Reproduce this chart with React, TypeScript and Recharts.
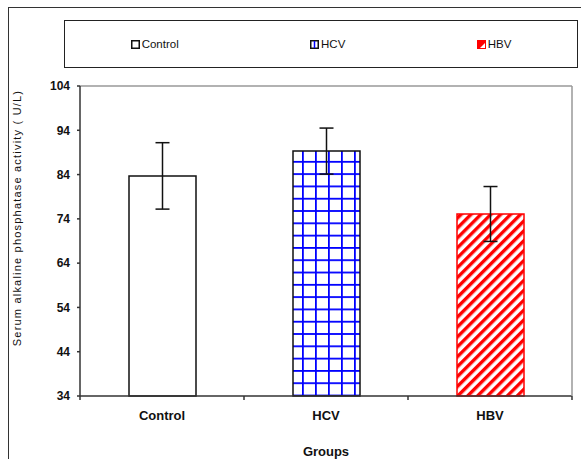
import { BarChart, Bar, XAxis, YAxis, ErrorBar, Cell, Legend, ReferenceLine } from 'recharts'

const groups = ['Control', 'HCV', 'HBV']
const means = [83.7, 89.3, 75.1]
const errors = [7.5, 5.2, 6.2]
const yTicks = [34, 44, 54, 64, 74, 84, 94, 104]

const data = groups.map((group, i) => ({ group, mean: means[i], err: errors[i] }))

// look of each bar, same order as groups
const barLook = [
  { fill: '#ffffff', stroke: '#111111' },
  { fill: 'url(#hcvGrid)', stroke: '#111111' },
  { fill: 'url(#hbvHatch)', stroke: '#ff0000' },
]

const FONT = '"Liberation Sans", Arial, sans-serif'
const X_TICK_MARGIN = 15

function Marker({ index }: { index: number }) {
  if (index === 0) {
    return (
      <svg width={9} height={9} style={{ marginRight: 2 }}>
        <rect x={0.75} y={0.75} width={7.5} height={7.5} fill="#fff" stroke="#111" strokeWidth={1.5} />
      </svg>
    )
  }
  if (index === 1) {
    return (
      <svg width={9} height={9} style={{ marginRight: 2 }}>
        <rect x={0.75} y={0.75} width={7.5} height={7.5} fill="#fff" stroke="#111" strokeWidth={1.5} />
        <line x1={4.5} y1={1} x2={4.5} y2={8} stroke="#0000ff" strokeWidth={1.5} />
      </svg>
    )
  }
  return (
    <svg width={9} height={9} style={{ marginRight: 2 }}>
      <rect x={0} y={0} width={9} height={9} fill="#ff0000" />
      <polygon points="3,8 8,3 8,8" fill="#fff" />
    </svg>
  )
}

function LegendBox() {
  return (
    <div
      style={{
        boxSizing: 'border-box',
        width: '100%',
        height: '100%',
        border: '1.5px solid #222',
        display: 'flex',
        alignItems: 'center',
        justifyContent: 'space-around',
        fontFamily: FONT,
        fontSize: 11.5,
        color: '#111',
      }}
    >
      {groups.map((g, i) => (
        <div key={g} style={{ display: 'flex', alignItems: 'center' }}>
          <Marker index={i} />
          <span>{g}</span>
        </div>
      ))}
    </div>
  )
}

// category label plus the small tick marks on the band edges (Excel style)
function GroupTick(props: any) {
  const { x, y, payload, index, visibleTicksCount } = props
  const half = payload?.offset ?? 0
  const axisY = y - X_TICK_MARGIN
  return (
    <g>
      <line x1={x - half} x2={x - half} y1={axisY} y2={axisY + 4} stroke="#333" strokeWidth={1.5} />
      {index === visibleTicksCount - 1 && (
        <line x1={x + half} x2={x + half} y1={axisY} y2={axisY + 4} stroke="#333" strokeWidth={1.5} />
      )}
      <text x={x} y={y} dy="0.71em" textAnchor="middle" fill="#111" fontSize={13} fontWeight="bold">
        {payload.value}
      </text>
    </g>
  )
}

export default function App() {
  return (
    <div
      style={{
        position: 'absolute',
        left: 0,
        top: 0,
        width: 581,
        height: 459,
        overflow: 'hidden',
        background: '#fff',
        fontFamily: FONT,
      }}
    >
      <svg width={0} height={0} style={{ position: 'absolute' }}>
        <defs>
          <pattern id="hcvGrid" patternUnits="userSpaceOnUse" x={3} y={1} width={13} height={12.3}>
            <rect width={13} height={12.3} fill="#fff" />
            <line x1={0.9} y1={0} x2={0.9} y2={12.3} stroke="#0000ff" strokeWidth={1.8} />
            <line x1={0} y1={0.9} x2={13} y2={0.9} stroke="#0000ff" strokeWidth={1.8} />
          </pattern>
          <pattern id="hbvHatch" patternUnits="userSpaceOnUse" width={7} height={7} patternTransform="rotate(45)">
            <rect width={7} height={7} fill="#fff" />
            <rect width={3.4} height={7} fill="#ff0000" />
          </pattern>
        </defs>
      </svg>
      <div
        style={{
          position: 'absolute',
          left: 8,
          top: 7,
          width: 640,
          height: 520,
          borderLeft: '1.5px solid #333',
          borderTop: '1.5px solid #333',
        }}
      />
      <BarChart
        width={581}
        height={459}
        data={data}
        margin={{ top: 86, right: 8, bottom: 62, left: 20 }}
        style={{ position: 'absolute', left: 0, top: 0 }}
      >
        <Legend
          layout="horizontal"
          verticalAlign="middle"
          align="center"
          content={() => <LegendBox />}
          wrapperStyle={{ position: 'absolute', left: 64, top: 20, width: 514, height: 48 }}
        />
        <XAxis
          dataKey="group"
          height={1}
          interval={0}
          tickLine={false}
          tickSize={0}
          tickMargin={X_TICK_MARGIN}
          axisLine={{ stroke: '#333', strokeWidth: 1.5 }}
          tick={GroupTick}
          label={{
            content: () => (
              <text x={326} y={456} textAnchor="middle" fill="#111" fontSize={13} fontWeight="bold">
                Groups
              </text>
            ),
          }}
        />
        <YAxis
          width={60}
          domain={[34, 104]}
          ticks={yTicks}
          interval={0}
          tickSize={3}
          tickMargin={7}
          axisLine={{ stroke: '#333', strokeWidth: 1.5 }}
          tickLine={{ stroke: '#333', strokeWidth: 1.5 }}
          tick={{ fill: '#111', fontSize: 12, fontWeight: 'bold' }}
          label={{
            content: () => (
              <text
                x={17}
                y={218}
                transform="rotate(-90 17 218)"
                textAnchor="middle"
                dominantBaseline="central"
                fill="#111"
                fontSize={11}
                letterSpacing={1.2}
              >
                Serum alkaline phosphatase activity ( U/L)
              </text>
            ),
          }}
        />
        <YAxis
          yAxisId="frame"
          orientation="right"
          width={1}
          domain={[34, 104]}
          tick={false}
          tickLine={false}
          axisLine={{ stroke: '#999', strokeWidth: 1.5 }}
        />
        <ReferenceLine y={104} stroke="#999" strokeWidth={1.5} />
        <Bar dataKey="mean" barSize={67} strokeWidth={1.5} isAnimationActive={false}>
          {data.map((d, i) => (
            <Cell key={d.group} fill={barLook[i].fill} stroke={barLook[i].stroke} />
          ))}
          <ErrorBar dataKey="err" width={7} stroke="#111" strokeWidth={1.5} isAnimationActive={false} />
        </Bar>
      </BarChart>
    </div>
  )
}
